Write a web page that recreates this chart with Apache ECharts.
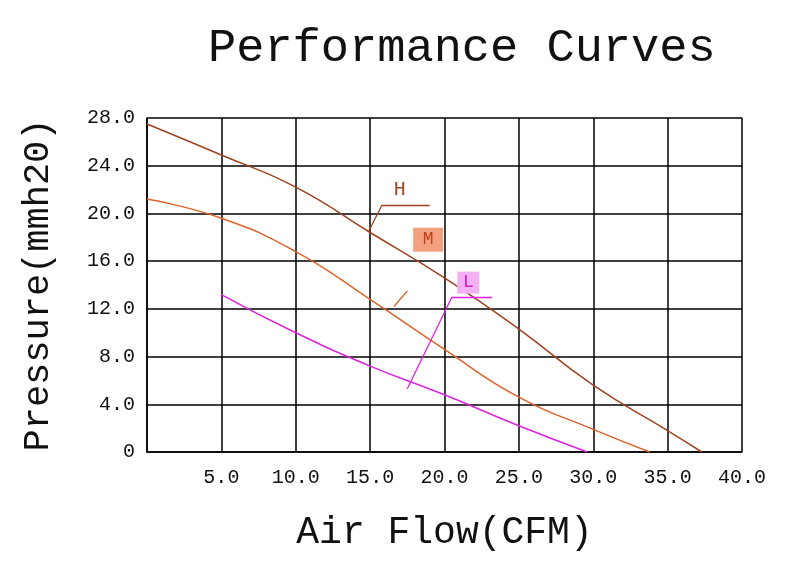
<!DOCTYPE html>
<html><head><meta charset="utf-8">
<script src="https://cdn.jsdelivr.net/npm/echarts@6/dist/echarts.min.js"></script>
<style>body{margin:0;background:#fff}#c{width:800px;height:572px}</style>
</head><body><div id="c"></div>
<script>
var flowH = [0, 5, 10, 15, 20, 25, 30, 35, 37.3];
var presH = [27.5, 24.9, 22.2, 18.4, 14.6, 10.3, 5.6, 1.8, 0];
var flowM = [0, 5, 10, 15, 20, 25, 30, 33.8];
var presM = [21.2, 19.6, 16.8, 12.8, 8.6, 4.6, 1.9, 0];
var flowL = [5, 10, 15, 20, 25, 29.6];
var presL = [13.2, 10.0, 7.2, 4.8, 2.2, 0];
var xTicks = ['', '5.0', '10.0', '15.0', '20.0', '25.0', '30.0', '35.0', '40.0'];
var yTicks = ['0', '4.0', '8.0', '12.0', '16.0', '20.0', '24.0', '28.0'];

function pairs(xs, ys) {
	var out = [];
	for (var i = 0; i < xs.length; i++) out.push([xs[i], ys[i]]);
	return out;
}
var font = 'Liberation Mono';
var chart = echarts.init(document.getElementById('c'));

function leader(pts, color) {
	var segs = [];
	for (var i = 0; i < pts.length - 1; i++) segs.push([{coord: pts[i]}, {coord: pts[i + 1]}]);
	return {silent: true, symbol: 'none', label: {show: false}, lineStyle: {color: color, type: 'solid', width: 1.3}, data: segs};
}

chart.setOption({
	animation: false,
	title: {text: 'Performance Curves', left: 203, top: 20,
		textStyle: {fontFamily: font, fontWeight: 'normal', fontSize: 47, color: '#111'}},
	grid: {left: 147, right: 58, top: 118, bottom: 120},
	xAxis: {
		type: 'value', min: 0, max: 40, interval: 5,
		name: 'Air Flow(CFM)', nameLocation: 'middle', nameGap: 62,
		nameTextStyle: {fontFamily: font, fontSize: 38, color: '#111'},
		axisLine: {lineStyle: {color: '#000', width: 1.5}},
		axisTick: {show: false},
		splitLine: {lineStyle: {color: '#000', width: 1.5}},
		axisLabel: {fontFamily: font, fontSize: 20, color: '#111', margin: 16,
			formatter: function(v) { return xTicks[v / 5]; }}
	},
	yAxis: {
		type: 'value', min: 0, max: 28, interval: 4,
		name: 'Pressure(mmh20)', nameLocation: 'middle', nameGap: 90,
		nameTextStyle: {fontFamily: font, fontSize: 37, color: '#111'},
		axisLine: {show: true, lineStyle: {color: '#000', width: 1.5}},
		axisTick: {show: false},
		splitLine: {lineStyle: {color: '#000', width: 1.5}},
		axisLabel: {fontFamily: font, fontSize: 20, color: '#111', margin: 12,
			formatter: function(v) { return yTicks[v / 4]; }}
	},
	series: [
		{type: 'line', data: pairs(flowH, presH), smooth: true, symbol: 'none',
			lineStyle: {color: '#a0421e', width: 1.5},
			markLine: leader([[14.9, 18.5], [15.8, 20.7], [19, 20.7]], '#a0421e'),
			markPoint: {symbol: 'rect', symbolSize: 1, itemStyle: {color: 'rgba(0,0,0,0)'},
				data: [{coord: [17, 22], label: {show: true, formatter: 'H', fontFamily: font, fontSize: 20, color: '#a0421e'}}]}},
		{type: 'line', data: pairs(flowM, presM), smooth: true, symbol: 'none',
			lineStyle: {color: '#e0622a', width: 1.5},
			markLine: leader([[16.6, 12.2], [17.5, 13.5]], '#e0622a'),
			markPoint: {symbol: 'rect', symbolSize: [30, 24], itemStyle: {color: '#f2a080'},
				data: [{coord: [18.9, 17.8], label: {show: true, formatter: 'M', fontFamily: font, fontSize: 18, color: '#c0401a'}}]}},
		{type: 'line', data: pairs(flowL, presL), smooth: true, symbol: 'none',
			lineStyle: {color: '#e020e0', width: 1.5},
			markLine: leader([[17.5, 5.3], [20.5, 13.0], [23.2, 13.0]], '#e020e0'),
			markPoint: {symbol: 'rect', symbolSize: [22, 22], itemStyle: {color: '#f4b0f4'},
				data: [{coord: [21.6, 14.2], label: {show: true, formatter: 'L', fontFamily: font, fontSize: 18, color: '#d020d0'}}]}}
	]
});
</script></body></html>
